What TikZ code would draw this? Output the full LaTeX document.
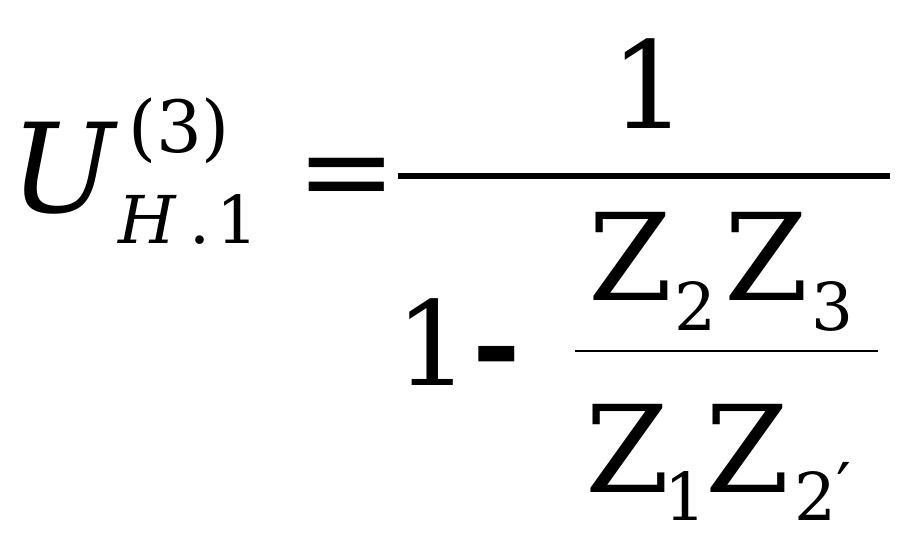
\documentclass[tikz,border=0pt]{standalone}
\usepackage{fontspec}
\setmainfont{DejaVu Serif}
\tikzset{
  g/.style={inner sep=0pt, outer sep=0pt, anchor=base west},
}
\newcommand{\fs}[1]{\fontsize{#1}{#1}\selectfont}
\begin{document}
\begin{tikzpicture}[x=1pt,y=-1pt]
\useasboundingbox (0,0) rectangle (911,549);
% left side
\node[g] (U) at (10,212) {\fs{124}\itshape U};
\node[g] (sup) at (128,152) {\fs{72}(3)};
\node[g] (sub) at (118,243) {\fs{66}\itshape H\upshape\hspace{14pt}.\hspace{6pt}1};
\node[g] (eq) at (296,212) {\fs{120}=};
% main fraction
\draw[line width=6pt] (398,176) -- (890,176);
\node[g] (one) at (610,128) {\fs{121}1};
\node[g] (onem) at (395,385) {\fs{117}1};
\node[g] (minus) at (472,385) {\fs{117}\bfseries -};
\draw[line width=2pt] (575,351) -- (878,351);
% numerator
\node[g] (z2) at (588,300) {\fs{121}Z};
\node[g] (s2) at (674,330) {\fs{66}2};
\node[g] (z3) at (724,300) {\fs{121}Z};
\node[g] (s3) at (811,330) {\fs{66}3};
% denominator
\node[g] (z1) at (585,492) {\fs{121}Z};
\node[g] (s1) at (664,520) {\fs{66}1};
\node[g] (z2p) at (705,492) {\fs{121}Z};
\node[g] (s2p) at (794,520) {\fs{66}2};
\node[g] (pr) at (836,510) {\fs{66}′};
\end{tikzpicture}
\end{document}
